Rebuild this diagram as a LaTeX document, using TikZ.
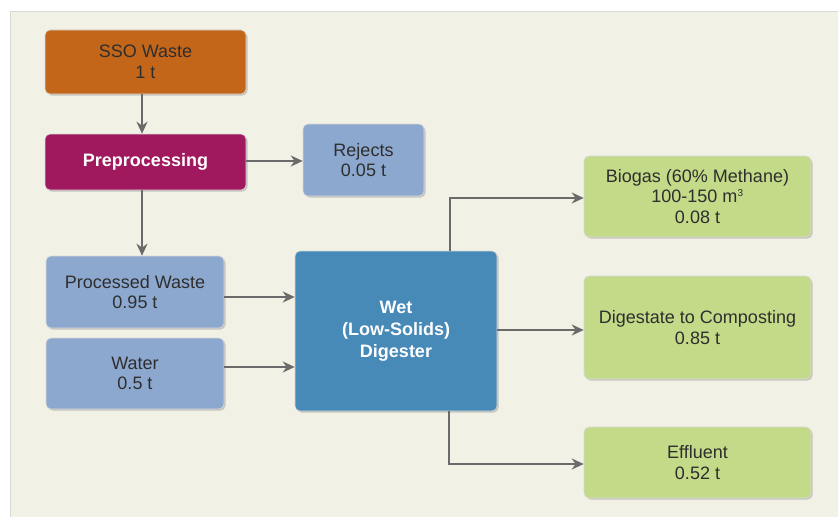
\documentclass[tikz,border=0pt]{standalone}
\usepackage{fontspec}
\setmainfont{Liberation Sans}
\usetikzlibrary{arrows.meta,shadows,positioning}
\definecolor{panel}{HTML}{F1F1E6}
\definecolor{ssoC}{HTML}{C4661A}
\definecolor{preC}{HTML}{A0195E}
\definecolor{lblue}{HTML}{8DA8CF}
\definecolor{dblue}{HTML}{4789B7}
\definecolor{lgreen}{HTML}{C3DB89}
\definecolor{arr}{HTML}{6A6A6A}
\definecolor{txt}{HTML}{2E2E2E}
\tikzset{
  box/.style={rounded corners=5pt, align=center, inner sep=0pt, text=txt,
    font=\fontsize{18}{20.5}\selectfont,
    drop shadow={shadow xshift=1.5pt, shadow yshift=-1.5pt, opacity=0.18, fill=black},
    draw=white!85!black, line width=0.6pt},
  bbox/.style={box, text=white, font=\bfseries\fontsize{18}{22}\selectfont},
  flow/.style={draw=arr, line width=2pt, -{Stealth[length=12pt,width=11pt]}}
}
\newcommand{\boxat}[7]{%
  \node[#1, fill=#2, minimum width=#5pt, minimum height=#6pt] (#3) at (#4) {#7};}
\begin{document}
\begin{tikzpicture}[x=1pt,y=-1pt]
\useasboundingbox (0,0) rectangle (838,519);
\fill[white] (0,0) rectangle (838,519);
\fill[panel] (10,11) rectangle (838,517);
\draw[white!85!black, line width=0.8pt] (10,517) -- (10,11) -- (838,11);
\boxat{box}{ssoC}{sso}{145.5,62}{201}{64}{SSO Waste\\1 t}
\boxat{bbox}{preC}{pre}{145.5,162}{201}{56}{Preprocessing}
\boxat{box}{lblue}{rej}{363.5,160}{121}{72}{Rejects\\0.05 t}
\boxat{box}{lblue}{pw}{135,292}{178}{72}{Processed Waste\\0.95 t}
\boxat{box}{lblue}{wat}{135,373.5}{178}{71}{Water\\0.5 t}
\boxat{bbox}{dblue}{dig}{396,331}{202}{160}{Wet\\(Low-Solids)\\Digester}
\boxat{box}{lgreen}{bio}{697.5,196.5}{227}{81}{Biogas (60\% Methane)\\100-150 m\textsuperscript{\fontsize{10}{10}\selectfont 3}\\0.08 t}
\boxat{box}{lgreen}{dgs}{697.5,327.5}{227}{103}{Digestate to Composting\\0.85 t}
\boxat{box}{lgreen}{eff}{697.5,462.5}{227}{71}{Effluent\\0.52 t}
\coordinate (c1) at (450,198);
\coordinate (c2) at (449,464);
\draw[flow] (sso.south -| 142,0) -- (pre.north -| 142,0);
\draw[flow] (pre.east |- 0,161) -- (rej.west |- 0,161);
\draw[flow] (pre.south -| 142,0) -- (pw.north -| 142,0);
\draw[flow] (pw.east |- 0,297) -- (dig.west |- 0,297);
\draw[flow] (wat.east |- 0,367) -- (dig.west |- 0,367);
\draw[flow] (dig.north -| c1) -- (c1) -- (bio.west |- c1);
\draw[flow] (dig.east |- 0,330) -- (dgs.west |- 0,330);
\draw[flow] (dig.south -| c2) -- (c2) -- (eff.west |- c2);
\end{tikzpicture}
\end{document}
